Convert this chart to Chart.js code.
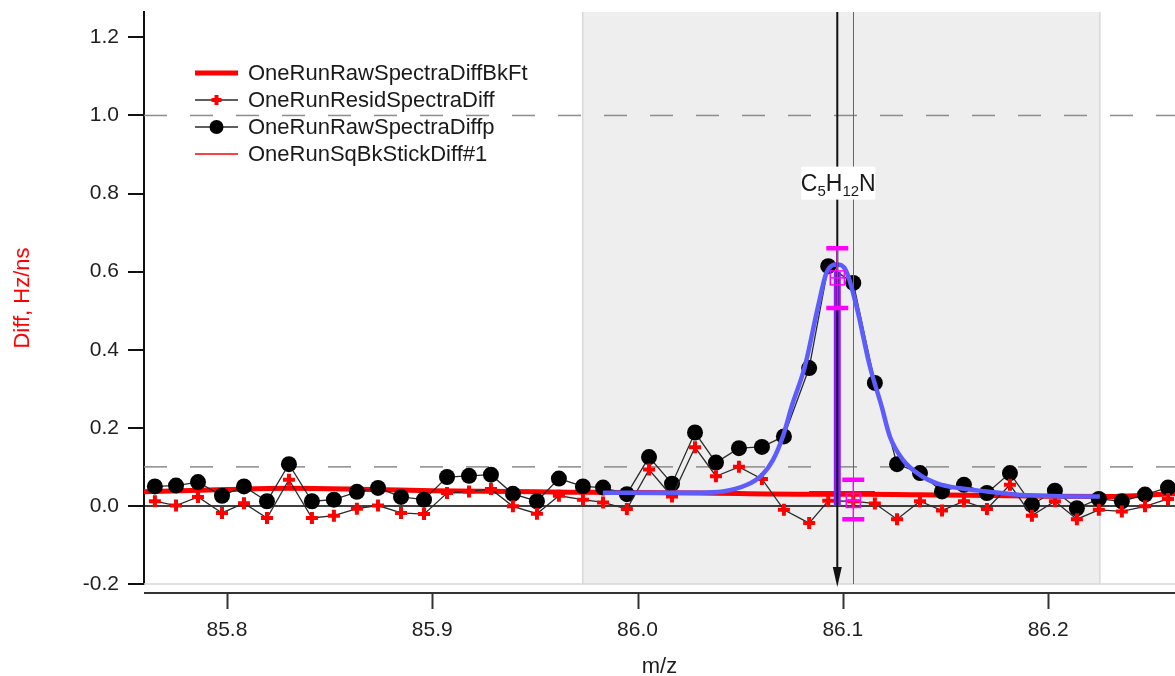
<!DOCTYPE html>
<html>
<head>
<meta charset="utf-8">
<script src="https://cdn.jsdelivr.net/npm/chart.js@4.4.0/dist/chart.umd.min.js"></script>
<style>
  html, body { margin: 0; padding: 0; background: #fff; }
  #wrap { width: 1175px; height: 676px; }
</style>
</head>
<body>
<div id="wrap"><canvas id="chart" width="1175" height="676"></canvas></div>
<script>
// sampled m/z positions of the spectrum points
const mzPoints = [
  85.7649, 85.7752, 85.7859, 85.7976, 85.8083, 85.8195, 85.8302, 85.8414, 85.8521, 85.8633,
  85.8736, 85.8848, 85.8960, 85.9072, 85.9179, 85.9286, 85.9393, 85.9510, 85.9617, 85.9734,
  85.9832, 85.9948, 86.0056, 86.0168, 86.0280, 86.0382, 86.0494, 86.0606, 86.0713, 86.0836,
  86.0929, 86.1051, 86.1156, 86.1264, 86.1376, 86.1483, 86.1590, 86.1702, 86.1814, 86.1921,
  86.2033, 86.2140, 86.2247, 86.2359, 86.2472, 86.2584
];
const rawDiff = [
  0.050, 0.052, 0.061, 0.026, 0.050, 0.012, 0.107, 0.012, 0.016, 0.036,
  0.046, 0.023, 0.016, 0.074, 0.077, 0.080, 0.031, 0.012, 0.070, 0.050,
  0.047, 0.030, 0.125, 0.057, 0.188, 0.111, 0.148, 0.151, 0.178, 0.353,
  0.614, 0.571, 0.315, 0.107, 0.084, 0.037, 0.054, 0.033, 0.084, 0.003,
  0.039, -0.006, 0.018, 0.012, 0.029, 0.047
];
const residDiff = [
  0.012, 0.001, 0.023, -0.018, 0.007, -0.031, 0.067, -0.031, -0.025, -0.007,
  0.001, -0.018, -0.021, 0.033, 0.037, 0.043, -0.001, -0.020, 0.026, 0.016,
  0.009, -0.008, 0.093, 0.024, 0.150, 0.076, 0.100, 0.069, -0.010, -0.044,
  0.013, 0.012, 0.006, -0.034, 0.012, -0.012, 0.012, -0.008, 0.054, -0.025,
  0.012, -0.034, -0.010, -0.014, -0.001, 0.018
];

// background fit
const bkFitMz = [85.7596, 85.80, 85.83, 85.87, 85.90, 85.95, 85.975, 86.03, 86.08, 86.11, 86.15, 86.20, 86.225, 86.2618];
const bkFitVal = [0.036, 0.042, 0.045, 0.042, 0.039, 0.036, 0.035, 0.033, 0.030, 0.030, 0.028, 0.025, 0.024, 0.031];

// peak fit
const peakFitMz = [
  85.9831, 86.0060, 86.0304, 86.0416, 86.0533, 86.0606, 86.0660, 86.0708, 86.0751, 86.0815,
  86.0879, 86.0921, 86.0971, 86.1015, 86.1067, 86.1132, 86.1189, 86.1229, 86.1293, 86.1376,
  86.1458, 86.1570, 86.1702, 86.1863, 86.2057, 86.2252
];
const peakFitVal = [
  0.034, 0.034, 0.034, 0.037, 0.054, 0.079, 0.118, 0.178, 0.255, 0.357,
  0.510, 0.598, 0.618, 0.603, 0.510, 0.357, 0.255, 0.178, 0.118, 0.079,
  0.058, 0.045, 0.037, 0.028, 0.025, 0.024
];

const sqBkMz = [86.0836, 86.1156];
const sqBkVal = [0.036, 0.036];

const stickMz = [86.0973, 86.0973];
const stickVal = [0, 0.600];

const errMz = [86.0973, 86.1051];
const errMid = [0.584, 0.014];
const errLow = [0.507, -0.034];
const errHigh = [0.660, 0.067];

const fitWindow = [85.9733, 86.2252];
const markerMz = 86.0973;
const refLineMz = 86.1051;
const labelLevel = 0.828;
const dashLevels = [1.0, 0.1];

const xTickValues = [85.8, 85.9, 86.0, 86.1, 86.2];
const yTickValues = [-0.2, 0.0, 0.2, 0.4, 0.6, 0.8, 1.0, 1.2];

const FONT = "'Liberation Sans', Arial, sans-serif";
const pts = (xs, ys) => xs.map((v, i) => ({ x: v, y: ys[i] }));

// shading, reference lines and the offset x axis
const decorations = {
  id: "decorations",
  beforeDatasetsDraw(chart) {
    const { ctx, chartArea: a, scales: { x, y } } = chart;
    ctx.save();
    const x0 = x.getPixelForValue(fitWindow[0]);
    const x1 = x.getPixelForValue(fitWindow[1]);
    ctx.fillStyle = "#eeeeee";
    ctx.fillRect(x0, a.top, x1 - x0, a.bottom - a.top);
    ctx.strokeStyle = "#d8d8d8";
    ctx.lineWidth = 1.5;
    ctx.beginPath();
    ctx.moveTo(x0, a.top); ctx.lineTo(x0, a.bottom);
    ctx.moveTo(x1, a.top); ctx.lineTo(x1, a.bottom);
    ctx.moveTo(a.left, a.bottom); ctx.lineTo(a.right, a.bottom);
    ctx.stroke();

    ctx.setLineDash([23, 23]);
    ctx.strokeStyle = "#8c8c8c";
    ctx.lineWidth = 1.5;
    dashLevels.forEach(v => {
      const py = y.getPixelForValue(v);
      ctx.beginPath(); ctx.moveTo(a.left, py); ctx.lineTo(a.right, py); ctx.stroke();
    });
    ctx.setLineDash([]);

    const zy = y.getPixelForValue(0);
    ctx.strokeStyle = "#000";
    ctx.lineWidth = 1.5;
    ctx.beginPath(); ctx.moveTo(a.left, zy); ctx.lineTo(a.right, zy); ctx.stroke();

    // x axis sits a little below the plot
    const ay = a.bottom + 9;
    ctx.strokeStyle = "#333";
    ctx.lineWidth = 2;
    ctx.beginPath(); ctx.moveTo(a.left, ay); ctx.lineTo(a.right, ay); ctx.stroke();
    x.ticks.forEach(t => {
      const px = Math.round(x.getPixelForValue(t.value)) + 0.5;
      ctx.beginPath(); ctx.moveTo(px, ay); ctx.lineTo(px, ay + 16); ctx.stroke();
    });
    ctx.restore();
  },
  afterDatasetsDraw(chart) {
    const { ctx, chartArea: a, scales: { x, y } } = chart;
    ctx.save();
    // grey reference line
    const rx = Math.round(x.getPixelForValue(refLineMz)) + 0.5;
    ctx.strokeStyle = "#666";
    ctx.lineWidth = 1;
    ctx.beginPath(); ctx.moveTo(rx, a.top); ctx.lineTo(rx, a.bottom); ctx.stroke();

    // marker line with arrow
    const mx = x.getPixelForValue(markerMz);
    ctx.strokeStyle = "#111";
    ctx.lineWidth = 2;
    ctx.beginPath(); ctx.moveTo(mx, a.top); ctx.lineTo(mx, a.bottom - 10); ctx.stroke();
    ctx.fillStyle = "#111";
    ctx.beginPath();
    ctx.moveTo(mx - 4.5, a.bottom - 17);
    ctx.lineTo(mx + 4.5, a.bottom - 17);
    ctx.lineTo(mx, a.bottom + 3);
    ctx.closePath(); ctx.fill();

    // magenta error markers
    ctx.strokeStyle = "#ff00ff";
    errMz.forEach((m, i) => {
      const px = x.getPixelForValue(m);
      const pm = y.getPixelForValue(errMid[i]);
      const pl = y.getPixelForValue(errLow[i]);
      const ph = y.getPixelForValue(errHigh[i]);
      ctx.lineWidth = 1.5;
      ctx.beginPath(); ctx.moveTo(px, pl); ctx.lineTo(px, ph); ctx.stroke();
      ctx.lineWidth = 4.5;
      ctx.beginPath();
      ctx.moveTo(px - 11, pl); ctx.lineTo(px + 11, pl);
      ctx.moveTo(px - 11, ph); ctx.lineTo(px + 11, ph);
      ctx.stroke();
      ctx.lineWidth = 1.5;
      ctx.strokeRect(px - 7, pm - 7, 14, 14);
      ctx.beginPath(); ctx.moveTo(px - 7, pm); ctx.lineTo(px + 7, pm); ctx.stroke();
    });

    // formula label
    const ly = y.getPixelForValue(labelLevel);
    const big = "23px " + FONT, small = "15px " + FONT;
    const parts = [["C", big, 0], ["5", small, 5], ["H", big, 0], ["12", small, 5], ["N", big, 0]];
    let w = 0;
    parts.forEach(p => { ctx.font = p[1]; w += ctx.measureText(p[0]).width; });
    ctx.fillStyle = "#fff";
    ctx.fillRect(mx + 1 - 37, ly - 16, 74, 33);
    let tx = mx + 1 - w / 2;
    ctx.fillStyle = "#1a1a1a";
    ctx.textBaseline = "alphabetic";
    parts.forEach(p => {
      ctx.font = p[1];
      ctx.fillText(p[0], tx, ly + 8 + p[2]);
      tx += ctx.measureText(p[0]).width;
    });
    ctx.restore();
  },
  afterDraw(chart) {
    // legend drawn inside the plot
    const { ctx } = chart;
    ctx.save();
    ctx.font = "22px " + FONT;
    ctx.textBaseline = "middle";
    chart.data.datasets.forEach(ds => {
      if (ds.legendRow === undefined) return;
      const ry = 73 + ds.legendRow * 27;
      ctx.strokeStyle = ds.borderColor;
      ctx.lineWidth = ds.borderWidth;
      ctx.beginPath(); ctx.moveTo(195, ry); ctx.lineTo(238, ry); ctx.stroke();
      if (ds.pointRadius > 0) {
        ctx.strokeStyle = ds.pointBorderColor;
        ctx.fillStyle = ds.pointBackgroundColor;
        ctx.lineWidth = ds.pointBorderWidth;
        Chart.helpers.drawPoint(ctx, {
          pointStyle: ds.pointStyle, radius: ds.pointRadius - 1,
          borderWidth: ds.pointBorderWidth, rotation: 0
        }, 216.5, ry);
      }
      ctx.fillStyle = "#1a1a1a";
      ctx.fillText(ds.label, 248, ry + 1);
    });
    ctx.restore();
  }
};

new Chart(document.getElementById("chart"), {
  type: "line",
  data: {
    datasets: [
      {
        label: "OneRunRawSpectraDiffBkFt",
        legendRow: 0,
        data: pts(bkFitMz, bkFitVal),
        borderColor: "#ff0000",
        borderWidth: 5,
        pointRadius: 0,
        cubicInterpolationMode: "monotone",
        order: 7,
      },
      {
        label: "OneRunResidSpectraDiff",
        legendRow: 1,
        data: pts(mzPoints, residDiff),
        borderColor: "#2a2a2a",
        borderWidth: 1.3,
        pointStyle: "cross",
        pointRadius: 6,
        pointBorderColor: "#ff0000",
        pointBackgroundColor: "#ff0000",
        pointBorderWidth: 4,
        order: 4,
      },
      {
        label: "OneRunRawSpectraDiffp",
        legendRow: 2,
        data: pts(mzPoints, rawDiff),
        borderColor: "#2a2a2a",
        borderWidth: 1.3,
        pointStyle: "circle",
        pointRadius: 8,
        pointBorderColor: "#000",
        pointBackgroundColor: "#000",
        pointBorderWidth: 0,
        order: 5,
      },
      {
        label: "OneRunSqBkStickDiff#1",
        legendRow: 3,
        data: pts(sqBkMz, sqBkVal),
        borderColor: "#ff0000",
        borderWidth: 1.5,
        pointRadius: 0,
        order: 6,
      },
      {
        label: "stick",
        data: pts(stickMz, stickVal),
        borderColor: "#8a1cff",
        borderWidth: 7,
        pointRadius: 0,
        order: 3,
      },
      {
        label: "fit",
        data: pts(peakFitMz, peakFitVal),
        borderColor: "#5c5cff",
        borderWidth: 4.5,
        pointRadius: 0,
        cubicInterpolationMode: "monotone",
        order: 2,
      },
    ],
  },
  options: {
    responsive: false,
    animation: false,
    devicePixelRatio: 1,
    layout: { autoPadding: false, padding: { top: 12, left: 0, right: 0, bottom: 0 } },
    plugins: { legend: { display: false }, tooltip: { enabled: false } },
    scales: {
      x: {
        type: "linear",
        min: 85.7596,
        max: 86.2618,
        afterBuildTicks: s => { s.ticks = xTickValues.map(v => ({ value: v })); },
        afterFit: s => { s.height = 92; s.paddingLeft = 0; s.paddingRight = 0; },
        border: { display: false },
        grid: { display: false, drawTicks: true, tickLength: 16 },
        ticks: {
          padding: 18, color: "#1e1e1e", maxRotation: 0, autoSkip: false,
          font: { family: FONT, size: 21 },
          callback: v => v.toFixed(1),
        },
        title: {
          display: true, text: "m/z", color: "#1e1e1e", padding: 0,
          font: { family: FONT, size: 22, lineHeight: 0.8 },
        },
      },
      y: {
        type: "linear",
        min: -0.2,
        max: 1.265,
        afterBuildTicks: s => { s.ticks = yTickValues.map(v => ({ value: v })); },
        afterFit: s => { s.width = 144; s.paddingTop = 0; s.paddingBottom = 0; },
        border: { display: true, color: "#111", width: 2 },
        grid: { drawOnChartArea: false, drawTicks: true, tickLength: 16, color: "#111", lineWidth: 2 },
        ticks: {
          padding: 9, color: "#1e1e1e",
          font: { family: FONT, size: 21 },
          callback: v => v.toFixed(1),
        },
        title: {
          display: true, text: "Diff, Hz/ns", color: "#ff0000",
          padding: { top: 10, bottom: 0 },
          font: { family: FONT, size: 22 },
        },
      },
    },
  },
  plugins: [decorations],
});
</script>
</body>
</html>
